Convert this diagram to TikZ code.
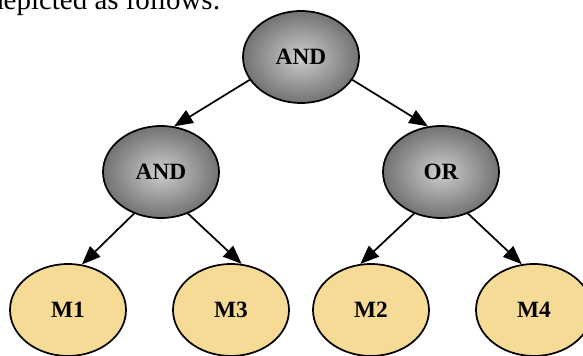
\documentclass[tikz,border=0pt]{standalone}
\usepackage{fontspec}
\setmainfont{Liberation Serif}
\usetikzlibrary{shapes.geometric,arrows.meta}

\definecolor{leafyellow}{RGB}{246,219,150}
\definecolor{bulbcentre}{RGB}{208,208,208}
\definecolor{bulblight}{RGB}{180,180,180}
\definecolor{bulbmid}{RGB}{118,118,118}
\definecolor{bulbrim}{RGB}{66,66,66}
\definecolor{bulbedge}{RGB}{52,52,52}

% light centre fading to a dark rim, stretched over the ellipse
\pgfdeclareradialshading{gatebulb}{\pgfpoint{0bp}{0bp}}{%
  color(0bp)=(bulbcentre);
  color(7bp)=(bulblight);
  color(24bp)=(bulbmid);
  color(40bp)=(bulbrim);
  color(50bp)=(bulbedge)}

\tikzset{
  oval/.style={ellipse, draw=black, line width=1.3pt, inner sep=0pt,
    minimum width=87pt, minimum height=69pt,
    font=\fontsize{17.5}{20}\selectfont\bfseries},
  gate/.style={oval, shading=gatebulb},
  leaf/.style={oval, fill=leafyellow},
  link/.style={line width=1.3pt, -{Triangle[length=14pt,width=11pt]}},
  prose/.style={font=\fontsize{21.7}{26}\selectfont, inner sep=0pt}
}

\begin{document}
\begin{tikzpicture}[x=0.75pt, y=-0.75pt]
  \useasboundingbox (0,0) rectangle (583,356);
  \clip (0,0) rectangle (583,356);

  \node[prose, anchor=base west] (caption) at (-11,10) {depicted as follows:};

  \node[gate] (root)  at (301,57)  {AND};
  \node[gate] (andl)  at (161,172) {AND};
  \node[gate] (orr)   at (441,172) {OR};

  \node[leaf] (m1) at (68,310)  {M1};
  \node[leaf] (m3) at (231,310) {M3};
  \node[leaf] (m2) at (371,310) {M2};
  \node[leaf] (m4) at (534,310) {M4};

  \draw[link] (root.204) -- (andl.74);
  \draw[link] (root.336) -- (orr.106);
  \draw[link] (andl.237) -- (m1.73);
  \draw[link] (andl.303) -- (m3.77);
  \draw[link] (orr.237)  -- (m2.103);
  \draw[link] (orr.303)  -- (m4.105);
\end{tikzpicture}
\end{document}
